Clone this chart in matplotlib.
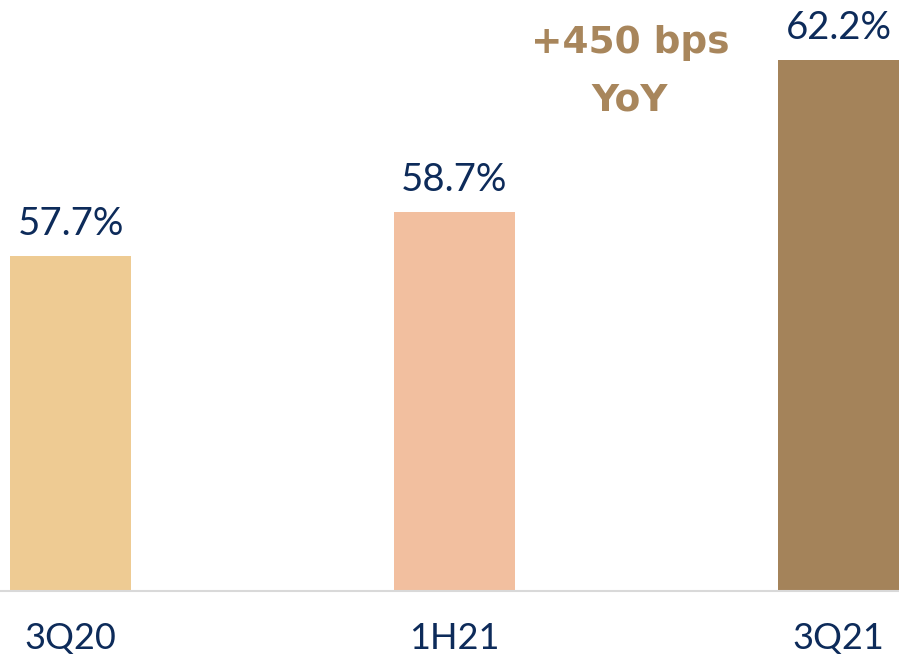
import matplotlib.pyplot as plt

periods = ["3Q20", "1H21", "3Q21"]
margins = [57.7, 58.7, 62.2]
bar_colors = ["#eecb93", "#f2bf9f", "#a4835a"]
callout_lines = ["+450 bps", "YoY"]

NAVY = "#0d2b5a"
TAN = "#a8865c"

plt.rcParams["font.family"] = ["Lato", "DejaVu Sans"]

fig = plt.figure(figsize=(8.99, 6.61), dpi=100)
ax = fig.add_axes([0, 70 / 661, 1, 591 / 661])

x = list(range(len(periods)))
bars = ax.bar(x, margins, width=0.315, color=bar_colors, bottom=0)
ax.set_ylim(50, 63.57)
ax.set_xlim(-0.1836, 2.1576)

for xi, val in zip(x, margins):
    ax.annotate(f"{val:.1f}%", (xi, val), xytext=(0, 15), textcoords="offset points",
                ha="center", va="baseline", fontsize=27.5, color=NAVY)

# callout is wider/heavier than the labels, DejaVu bold matches better
ax.text(1.457, 62.35, callout_lines[0], ha="center", va="baseline",
        fontsize=27, fontweight="bold", color=TAN, family="DejaVu Sans")
ax.text(1.457, 61.04, callout_lines[1], ha="center", va="baseline",
        fontsize=27, fontweight="bold", color=TAN, family="DejaVu Sans")

for side in ["top", "right", "left"]:
    ax.spines[side].set_visible(False)
ax.spines["bottom"].set_color("#d9d9d9")
ax.spines["bottom"].set_linewidth(1.5)
ax.set_yticks([])
ax.set_xticks(x)
ax.set_xticklabels(periods, fontsize=26, color=NAVY)
ax.tick_params(axis="x", length=0, pad=22)

fig.savefig("out.png", dpi=100)
